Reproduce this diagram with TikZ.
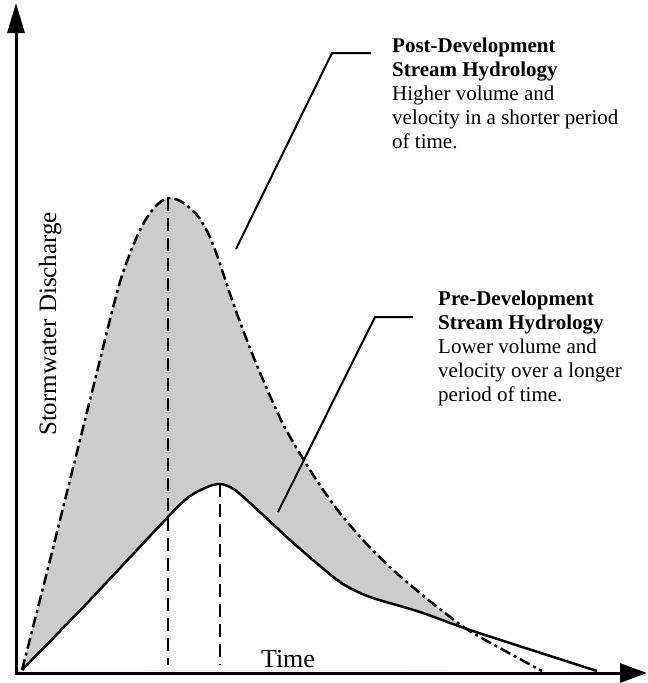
\documentclass[tikz,border=0pt]{standalone}
\usepackage{fontspec}
\setmainfont{Liberation Serif}
\usetikzlibrary{arrows.meta}
\definecolor{areagray}{gray}{0.8}
\begin{document}
\begin{tikzpicture}[x=1pt,y=-1pt,
  axisline/.style={line width=3pt},
  postcurve/.style={line width=2.5pt, dash pattern=on 11pt off 4pt on 3pt off 4pt},
  precurve/.style={line width=2.5pt, line join=round},
  guide/.style={line width=2pt, dash pattern=on 13pt off 7pt},
  leader/.style={line width=2pt},
  note/.style={align=left, inner sep=0pt, anchor=north west, font=\fontsize{21}{24}\selectfont},
]
\useasboundingbox (0,0) rectangle (648,683);

% shaded area between the two hydrographs
\fill[areagray] plot[smooth] coordinates {(22,670) (45,580) (70,480) (95,380) (120,282) (140,230) (155,207) (168,198) (182,202) (197,215) (208,233) (218,258) (228,288) (240,322) (258,368) (283,424) (310,470) (336,508) (363,540) (392,569) (420,593) (445,613) (473,633) (542,671)} -- cycle;
\fill[white] plot[smooth] coordinates {(22,670) (90,600) (150,536) (185,500) (205,488) (220,484) (235,490) (262,514) (290,540) (320,566) (343,584) (370,597) (420,612) (473,631) (597,671)} -- cycle;

% peak markers
\coordinate (postpeak) at (168,198);
\coordinate (postfoot) at (168,665);
\coordinate (prepeak) at (220,484);
\coordinate (prefoot) at (220,665);
\draw[guide] (postpeak) -- (postfoot);
\draw[guide] (prepeak) -- (prefoot);

% post-development hydrograph
\draw[postcurve] plot[smooth] coordinates {(22,670) (45,580) (70,480) (95,380) (120,282) (140,230) (155,207) (168,198) (182,202) (197,215) (208,233) (218,258) (228,288) (240,322) (258,368) (283,424) (310,470) (336,508) (363,540) (392,569) (420,593) (445,613) (473,633) (542,671)};
% pre-development hydrograph
\draw[precurve] plot[smooth] coordinates {(22,670) (90,600) (150,536) (185,500) (205,488) (220,484) (235,490) (262,514) (290,540) (320,566) (343,584) (370,597) (420,612) (473,631) (597,671)};

% axes
\coordinate (origin) at (16,673);
\coordinate (ytip) at (16,3);
\coordinate (xtip) at (647,673);
\draw[axisline, -{Triangle[length=30pt,width=17pt]}] ([yshift=-1.5pt]origin) -- (ytip);
\draw[axisline, -{Triangle[length=27pt,width=19pt]}] ([xshift=-1.5pt]origin) -- (xtip);

\node[rotate=90, anchor=base, inner sep=0pt, font=\fontsize{25}{29}\selectfont] (ylab) at (56,324) {Stormwater Discharge};
\node[anchor=base, inner sep=0pt, font=\fontsize{26}{30}\selectfont] (xlab) at (288,667) {Time};

% annotations
\node[note] (posttxt) at (392,37.5) {\textbf{Post-Development}\\\textbf{Stream Hydrology}\\Higher volume and\\velocity in a shorter period\\of time.};
\node[note] (pretxt) at (438,290.5) {\textbf{Pre-Development}\\\textbf{Stream Hydrology}\\Lower volume and\\velocity over a longer\\period of time.};

\coordinate (postlead) at (236,249);
\coordinate (postknee) at (332,53);
\coordinate (postend) at (371,53);
\draw[leader] (postlead) -- (postknee) -- (postend);
\coordinate (prelead) at (278,512);
\coordinate (preknee) at (375,317);
\coordinate (preend) at (413,317);
\draw[leader] (prelead) -- (preknee) -- (preend);
\end{tikzpicture}
\end{document}
